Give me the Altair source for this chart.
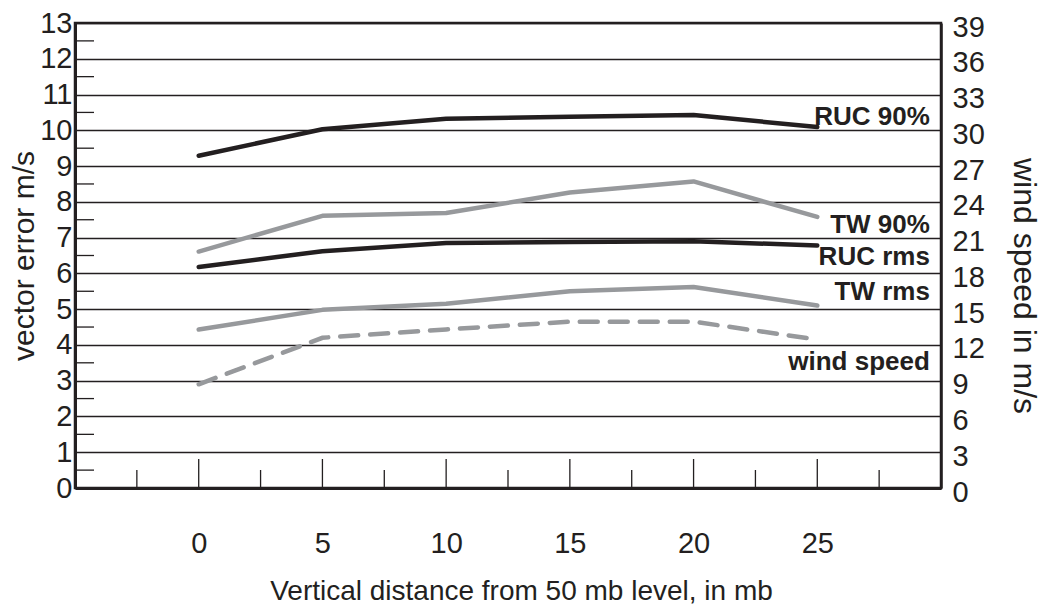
import altair as alt
import pandas as pd

# Vertical distance from the 50 mb level (mb)
levels = [0, 5, 10, 15, 20, 25]

# Vector errors (m/s)
ruc_90 = [9.29, 10.03, 10.32, 10.38, 10.43, 10.09]
tw_90 = [6.61, 7.61, 7.69, 8.26, 8.57, 7.58]
ruc_rms = [6.18, 6.62, 6.85, 6.88, 6.90, 6.78]
tw_rms = [4.43, 4.98, 5.15, 5.50, 5.62, 5.10]

# Mean wind speed (m/s), right-hand axis
wind_speed = [8.7, 12.6, 13.3, 13.95, 13.95, 12.45]

series_names = ["RUC 90%", "TW 90%", "RUC rms", "TW rms"]
series_values = [ruc_90, tw_90, ruc_rms, tw_rms]

# Series labels placed at the right end of the plot
label_text = ["RUC 90%", "TW 90%", "RUC rms", "TW rms", "wind speed"]
label_x = [29.55, 29.55, 29.55, 29.55, 29.55]
label_y = [10.15, 7.14, 6.24, 5.26, 3.31]

left_ticks = list(range(0, 14))
left_half_ticks = [i + 0.5 for i in range(13)]
right_ticks = list(range(0, 40, 3))
x_major = [0, 5, 10, 15, 20, 25]
x_minor = [-2.5, 2.5, 7.5, 12.5, 17.5, 22.5, 27.5]

BLACK = "#231f20"
GRAY = "#97999c"
FONT = "Liberation Sans"
W, H = 866, 465

err_df = pd.DataFrame(
    [
        {"level": lv, "error": v, "series": name}
        for name, vals in zip(series_names, series_values)
        for lv, v in zip(levels, vals)
    ]
)
wind_df = pd.DataFrame({"level": levels, "wind": wind_speed})
label_df = pd.DataFrame({"level": label_x, "error": label_y, "text": label_text})
half_df = pd.DataFrame({"error": left_half_ticks})
major_df = pd.DataFrame({"level": x_major})
minor_df = pd.DataFrame({"level": x_minor})

x_scale = alt.Scale(domain=[-5, 30], nice=False, zero=False)
y_scale = alt.Scale(domain=[0, 13], nice=False, zero=False)

x_axis = alt.Axis(
    values=x_major,
    title="Vertical distance from 50 mb level, in mb",
    titleFont=FONT,
    titleFontSize=28,
    titleFontWeight="normal",
    titleColor=BLACK,
    titlePadding=19,
    titleX=W / 2 + 13,
    labelFont=FONT,
    labelFontSize=29,
    labelColor=BLACK,
    labelBaseline="alphabetic",
    labelPadding=64,
    labelOverlap=False,
    ticks=False,
    tickSize=0,
    grid=False,
    domainColor=BLACK,
    domainWidth=3,
)

y_axis = alt.Axis(
    values=left_ticks,
    title="vector error m/s",
    titleFont=FONT,
    titleFontSize=30,
    titleFontWeight="normal",
    titleColor=BLACK,
    titleAngle=-90,
    titleBaseline="alphabetic",
    titleX=-42,
    titleY=H / 2,
    labelFont=FONT,
    labelFontSize=29,
    labelColor=BLACK,
    labelPadding=3,
    labelOverlap=False,
    ticks=False,
    tickSize=0,
    grid=True,
    gridColor=BLACK,
    gridWidth=1.3,
    gridOpacity=1,
    domainColor=BLACK,
    domainWidth=3,
)

lines = alt.Chart(err_df).mark_line(strokeWidth=4.5, strokeCap="round", strokeJoin="round").encode(
    x=alt.X("level:Q", scale=x_scale, axis=x_axis),
    y=alt.Y("error:Q", scale=y_scale, axis=y_axis),
    color=alt.Color(
        "series:N",
        scale=alt.Scale(domain=series_names, range=[BLACK, GRAY, BLACK, GRAY]),
        legend=None,
    ),
    detail="series:N",
)

half_ticks = alt.Chart(half_df).mark_rule(color=BLACK, strokeWidth=1.3).encode(
    y=alt.Y("error:Q", scale=y_scale, axis=y_axis),
    x=alt.value(0),
    x2=alt.value(19),
)

major_ticks = alt.Chart(major_df).mark_rule(color=BLACK, strokeWidth=1.3).encode(
    x=alt.X("level:Q", scale=x_scale, axis=x_axis),
    y=alt.value(H),
    y2=alt.value(H - 29),
)

minor_ticks = alt.Chart(minor_df).mark_rule(color=BLACK, strokeWidth=1.3).encode(
    x=alt.X("level:Q", scale=x_scale, axis=x_axis),
    y=alt.value(H),
    y2=alt.value(H - 18),
)

labels = alt.Chart(label_df).mark_text(
    align="right",
    baseline="alphabetic",
    font=FONT,
    fontSize=26,
    fontWeight="bold",
    color=BLACK,
).encode(
    x=alt.X("level:Q", scale=x_scale, axis=x_axis),
    y=alt.Y("error:Q", scale=y_scale, axis=y_axis),
    text="text:N",
)

left_group = alt.layer(lines, half_ticks, major_ticks, minor_ticks, labels)

wind = alt.Chart(wind_df).mark_line(
    color=GRAY, strokeWidth=4.5, strokeCap="round", strokeDash=[18, 12]
).encode(
    x=alt.X("level:Q", scale=x_scale, axis=x_axis),
    y=alt.Y(
        "wind:Q",
        scale=alt.Scale(domain=[0, 39], nice=False, zero=False),
        axis=alt.Axis(
            orient="right",
            values=right_ticks,
            title="wind speed in m/s",
            titleFont=FONT,
            titleFontSize=32,
            titleFontWeight="normal",
            titleColor=BLACK,
            titleAngle=90,
            titleBaseline="alphabetic",
            titleX=72,
            titleY=H / 2 + 30,
            labelFont=FONT,
            labelFontSize=29,
            labelColor=BLACK,
            labelAlign="left",
            labelPadding=11,
            labelOffset=4,
            labelOverlap=False,
            ticks=False,
            tickSize=0,
            grid=False,
            domainColor=BLACK,
            domainWidth=2.5,
        ),
    ),
)

chart = (
    alt.layer(left_group, wind)
    .resolve_scale(y="independent")
    .properties(
        width=W,
        height=H,
        autosize=alt.AutoSizeParams(type="none"),
        padding={"left": 75, "top": 23, "right": 103, "bottom": 124},
        background="white",
    )
    .configure_view(stroke=BLACK, strokeWidth=2.5)
)

chart.save("out.html", embed_options={"renderer": "svg", "actions": False})
